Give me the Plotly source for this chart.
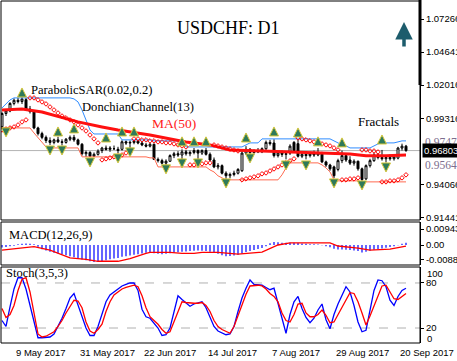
import plotly.graph_objects as go
import pandas as pd

# ---------------- data ----------------
dates = [d.strftime("%Y-%m-%d") for d in pd.bdate_range("2017-05-04", "2017-09-22")]

opens = [0.9870,0.9975,0.9995,1.0055,1.0080,1.0070,1.0085,1.0010,0.9990,0.9860,
         0.9815,0.9785,0.9760,0.9745,0.9765,0.9750,0.9745,0.9770,0.9785,0.9765,
         0.9730,0.9655,0.9665,0.9635,0.9650,0.9680,0.9700,0.9690,0.9695,0.9680,
         0.9690,0.9750,0.9740,0.9745,0.9755,0.9740,0.9725,0.9715,0.9730,0.9610,
         0.9600,0.9580,0.9595,0.9640,0.9655,0.9645,0.9670,0.9655,0.9665,0.9680,
         0.9660,0.9680,0.9650,0.9605,0.9550,0.9560,0.9500,0.9480,0.9490,0.9500,
         0.9520,0.9660,0.9690,0.9665,0.9680,0.9670,0.9695,0.9745,0.9740,0.9640,
         0.9660,0.9650,0.9660,0.9745,0.9735,0.9635,0.9650,0.9640,0.9655,0.9645,
         0.9660,0.9590,0.9565,0.9550,0.9530,0.9600,0.9640,0.9605,0.9580,0.9595,
         0.9535,0.9455,0.9560,0.9600,0.9645,0.9625,0.9615,0.9625,0.9615,0.9620,
         0.9700,0.9715]
highs = [0.9985,1.0010,1.0065,1.0095,1.0100,1.0105,1.0098,1.0035,1.0000,0.9870,
         0.9830,0.9800,0.9785,0.9775,0.9790,0.9770,0.9780,0.9800,0.9805,0.9775,
         0.9740,0.9680,0.9675,0.9665,0.9690,0.9710,0.9720,0.9715,0.9720,0.9710,
         0.9762,0.9760,0.9760,0.9762,0.9765,0.9755,0.9740,0.9740,0.9735,0.9625,
         0.9615,0.9610,0.9650,0.9670,0.9675,0.9690,0.9685,0.9680,0.9700,0.9690,
         0.9690,0.9700,0.9665,0.9625,0.9580,0.9570,0.9515,0.9505,0.9520,0.9540,
         0.9675,0.9715,0.9700,0.9690,0.9700,0.9705,0.9760,0.9765,0.9770,0.9675,
         0.9680,0.9670,0.9730,0.9755,0.9765,0.9665,0.9660,0.9670,0.9680,0.9700,
         0.9670,0.9600,0.9575,0.9560,0.9615,0.9680,0.9660,0.9635,0.9610,0.9600,
         0.9545,0.9570,0.9615,0.9660,0.9660,0.9685,0.9640,0.9650,0.9645,0.9710,
         0.9735,0.9725]
lows = [0.9850,0.9955,0.9985,1.0040,1.0055,1.0050,1.0000,0.9975,0.9850,0.9800,
        0.9770,0.9740,0.9725,0.9730,0.9740,0.9720,0.9735,0.9755,0.9750,0.9720,
        0.9640,0.9630,0.9630,0.9630,0.9640,0.9660,0.9680,0.9670,0.9685,0.9660,
        0.9680,0.9725,0.9690,0.9730,0.9730,0.9715,0.9705,0.9705,0.9630,0.9585,
        0.9570,0.9555,0.9590,0.9620,0.9630,0.9600,0.9640,0.9635,0.9650,0.9605,
        0.9645,0.9640,0.9595,0.9540,0.9530,0.9490,0.9455,0.9460,0.9475,0.9490,
        0.9510,0.9645,0.9645,0.9655,0.9660,0.9660,0.9685,0.9720,0.9625,0.9625,
        0.9630,0.9610,0.9645,0.9670,0.9625,0.9620,0.9610,0.9625,0.9630,0.9635,
        0.9580,0.9550,0.9520,0.9460,0.9515,0.9580,0.9590,0.9565,0.9560,0.9520,
        0.9430,0.9445,0.9545,0.9590,0.9610,0.9600,0.9585,0.9600,0.9600,0.9610,
        0.9680,0.9670]
closes = [0.9975,0.9995,1.0055,1.0080,1.0070,1.0090,1.0010,0.9990,0.9860,0.9815,
          0.9785,0.9760,0.9745,0.9765,0.9750,0.9745,0.9770,0.9785,0.9765,0.9730,
          0.9655,0.9665,0.9635,0.9650,0.9675,0.9700,0.9690,0.9700,0.9695,0.9690,
          0.9750,0.9740,0.9745,0.9755,0.9740,0.9725,0.9715,0.9730,0.9610,0.9600,
          0.9580,0.9595,0.9640,0.9655,0.9645,0.9670,0.9655,0.9665,0.9680,0.9660,
          0.9680,0.9650,0.9605,0.9550,0.9560,0.9500,0.9480,0.9490,0.9500,0.9530,
          0.9660,0.9690,0.9665,0.9680,0.9670,0.9695,0.9745,0.9735,0.9640,0.9660,
          0.9650,0.9655,0.9715,0.9680,0.9635,0.9650,0.9640,0.9655,0.9645,0.9660,
          0.9590,0.9565,0.9535,0.9480,0.9600,0.9640,0.9605,0.9580,0.9595,0.9535,
          0.9450,0.9560,0.9600,0.9645,0.9625,0.9615,0.9625,0.9615,0.9630,0.9700,
          0.9715,0.9680]

ma_idx = [0, 5, 10, 15, 19, 25, 29, 37, 46, 52, 57, 65, 72, 80, 87, 91, 96, 101]
ma_val = [1.0003,1.0011,0.9987,0.9940,0.9908,0.9868,0.9844,0.9804,0.9749,0.9725,
          0.9685,0.9677,0.9669,0.9661,0.9653,0.9638,0.9638,0.9645]

sar = [0.9844,0.9852,0.9860,0.9868,0.9884,0.9908,0.9924,
       1.0099,1.0099,1.0083,1.0067,1.0051,1.0027,1.0003,0.9979,0.9955,0.9940,0.9924,
       0.9908,0.9884,0.9860,0.9836,0.9804,0.9773,0.9741,
       0.9606,0.9614,0.9622,0.9630,0.9638,0.9645,0.9661,0.9669,
       0.9773,0.9773,0.9765,0.9765,0.9757,0.9757,0.9749,0.9749,0.9741,0.9741,0.9733,
       0.9725,0.9717,0.9709,
       0.9566,0.9566,0.9574,0.9574,0.9582,0.9582,
       0.9725,0.9717,0.9709,0.9701,0.9693,0.9685,0.9677,
       0.9447,0.9455,0.9463,0.9471,0.9479,0.9495,0.9502,0.9518,0.9534,0.9550,0.9566,
       0.9582,0.9598,0.9614,
       0.9781,0.9773,0.9765,0.9757,0.9749,0.9741,0.9733,0.9725,0.9717,0.9701,0.9685,
       0.9447,0.9447,0.9455,0.9455,0.9463,
       0.9685,0.9685,0.9677,0.9677,0.9669,
       0.9431,0.9431,0.9439,0.9439,0.9447,0.9463,0.9487]

don_up = [1.0019,1.0051,1.0083] + [1.0099]*15 + [1.0091,1.0067,1.0003,0.9924,0.9844] \
         + [0.9812]*7 + [0.9765]*8 + [0.9757]*8 + [0.9709]*14 + [0.9709,0.9725] \
         + [0.9741]*3 + [0.9773]*18 + [0.9757,0.9741,0.9725,0.9717] + [0.9701]*6 \
         + [0.9717,0.9733] + [0.9741]*4 + [0.9749] + [0.9757]*2
don_lo = [0.9860]*8 + [0.9820,0.9781,0.9741,0.9709] + [0.9701]*8 + [0.9630]*17 \
         + [0.9622]*2 + [0.9550]*13 + [0.9526,0.9510,0.9479,0.9463] + [0.9447]*14 \
         + [0.9487,0.9542] + [0.9582]*8 + [0.9566,0.9542,0.9510,0.9447] + [0.9439]*6 \
         + [0.9431]*12

frac_up_idx = [5, 14, 18, 26, 30, 33, 45, 48, 51, 61, 68, 74, 79, 85, 95]
frac_up_val = [1.0178,0.9868,0.9892,0.9820,0.9868,0.9868,0.9789,0.9789,0.9789,0.9820,
               0.9868,0.9860,0.9789,0.9781,0.9804]
frac_dn_idx = [1, 12, 15, 22, 29, 32, 41, 45, 49, 56, 62, 71, 76, 83, 90, 96]
frac_dn_val = [0.9789,0.9645,0.9645,0.9550,0.9582,0.9630,0.9495,0.9542,0.9542,0.9383,
               0.9582,0.9526,0.9526,0.9383,0.9367,0.9510]

macd = [-0.0015,-0.0012,-0.0008,-0.0004,0.0004,0.0008,0.0009,0.0008,0.0004,-0.0010,
        -0.0025,-0.0033,-0.0040,-0.0045,-0.0050,-0.0055,-0.0060,-0.0066,-0.0072,-0.0078,
        -0.0085,-0.0090,-0.0096,-0.0100,-0.0098,-0.0094,-0.0090,-0.0084,-0.0080,-0.0076,
        -0.0070,-0.0066,-0.0062,-0.0058,-0.0054,-0.0050,-0.0046,-0.0042,-0.0048,-0.0052,
        -0.0054,-0.0052,-0.0048,-0.0045,-0.0043,-0.0040,-0.0038,-0.0036,-0.0034,-0.0033,
        -0.0034,-0.0036,-0.0040,-0.0046,-0.0052,-0.0060,-0.0066,-0.0065,-0.0062,-0.0058,
        -0.0050,-0.0042,-0.0036,-0.0030,-0.0024,-0.0018,-0.0008,0.0010,0.0018,0.0016,
        0.0014,0.0013,0.0014,0.0014,0.0012,0.0009,0.0007,0.0005,0.0004,0.0003,
        -0.0002,-0.0008,-0.0014,-0.0022,-0.0026,-0.0026,-0.0028,-0.0030,-0.0032,-0.0036,
        -0.0044,-0.0040,-0.0034,-0.0028,-0.0024,-0.0020,-0.0016,-0.0012,-0.0008,-0.0002,
        0.0008,0.0014]
sig_idx = [0, 5, 8, 12, 17, 21, 24, 29, 32, 36, 37, 42, 45, 48, 50, 54, 57, 59, 65,
           69, 72, 82, 84, 89, 92, 97, 101]
sig_val = [-0.0030,-0.0018,-0.0010,-0.0030,-0.0076,-0.0085,-0.0096,-0.0096,-0.0080,
           -0.0050,-0.0044,-0.0044,-0.0050,-0.0050,-0.0044,-0.0044,-0.0048,-0.0054,
           -0.0042,0.0000,0.0012,0.0012,-0.0006,-0.0018,-0.0030,-0.0024,-0.0006]

stoch_k = [30,22,48,72,87,87,72,50,26,7,7,7,8,12,22,33,46,60,66,51,
           36,20,10,10,22,40,55,64,68,72,76,78,80,80,70,45,35,33,26,20,
           10,11,20,40,63,58,53,49,52,54,55,47,35,22,16,13,11,12,22,42,
           60,73,84,78,77,77,74,71,73,53,32,13,38,55,62,46,34,27,33,44,
           52,31,19,38,52,64,75,68,50,28,15,17,42,70,84,83,75,57,50,62,
           70,73]
stoch_d = [46,34,38,50,70,85,87,68,40,12,8,9,12,15,22,30,40,48,57,56,
           47,28,16,13,18,25,42,55,64,68,72,74,76,77,75,63,47,35,30,25,
           18,13,15,28,42,55,54,53,53,53,54,50,42,30,22,18,15,13,22,37,
           52,65,76,77,77,76,72,66,62,55,40,30,28,38,52,53,40,35,35,38,
           44,37,27,28,38,48,58,67,66,55,40,24,36,50,62,76,77,68,59,58,
           62,66]

date_ticks = ["2017-05-09", "2017-05-31", "2017-06-22", "2017-07-14",
              "2017-08-07", "2017-08-29", "2017-09-20"]
date_text = ["9 May 2017", "31 May 2017", "22 Jun 2017", "14 Jul 2017",
             "7 Aug 2017", "29 Aug 2017", "20 Sep 2017"]
price_ticks = [1.07266, 1.04641, 1.02016, 0.99316, 0.94066, 0.91441]
last_price = 0.96803
levels = [0.9747, 0.9564]

# ---------------- layout helpers ----------------
W, H = 457, 361
ML, MR, MT, MB = 1, 37, 1, 18
PW, PH = W - ML - MR, H - MT - MB
def px(x):
    return (x - ML) / PW
def py(y):
    return (H - MB - y) / PH

main_dom = [py(220), 1.0]
macd_dom = [py(265), py(222)]
st_dom = [0.0, py(267)]

SERIF = "Liberation Serif"
SANS = "Liberation Sans"

fig = go.Figure()

fig.add_trace(go.Candlestick(
    x=dates, open=opens, high=highs, low=lows, close=closes,
    increasing=dict(line=dict(color="black", width=1), fillcolor="white"),
    decreasing=dict(line=dict(color="black", width=1), fillcolor="black"),
    whiskerwidth=0, xaxis="x", yaxis="y", showlegend=False, hoverinfo="skip"))

fig.add_trace(go.Scatter(x=dates, y=don_up, mode="lines", line=dict(color="#2f8cff", width=1),
                         yaxis="y", showlegend=False, hoverinfo="skip"))
fig.add_trace(go.Scatter(x=dates, y=don_lo, mode="lines", line=dict(color="#ff6a50", width=1),
                         yaxis="y", showlegend=False, hoverinfo="skip"))
fig.add_trace(go.Scatter(x=[dates[i] for i in ma_idx], y=ma_val, mode="lines",
                         line=dict(color="#ff1010", width=3), yaxis="y", showlegend=False,
                         hoverinfo="skip"))
fig.add_trace(go.Scatter(x=dates, y=sar, mode="markers",
                         marker=dict(symbol="diamond-open", size=3.5, color="#ff0000",
                                     line=dict(width=1, color="#ff0000")),
                         yaxis="y", showlegend=False, hoverinfo="skip"))
fig.add_trace(go.Scatter(x=[dates[i] for i in frac_up_idx], y=frac_up_val, mode="markers",
                         marker=dict(symbol="arrow-up", size=9, color="#2e7a5a",
                                     line=dict(width=1, color="#d8c83a")),
                         yaxis="y", showlegend=False, hoverinfo="skip"))
fig.add_trace(go.Scatter(x=[dates[i] for i in frac_dn_idx], y=frac_dn_val, mode="markers",
                         marker=dict(symbol="arrow-down", size=9, color="#2e7a5a",
                                     line=dict(width=1, color="#d8c83a")),
                         yaxis="y", showlegend=False, hoverinfo="skip"))

fig.add_trace(go.Bar(x=dates, y=macd, width=0.3, marker=dict(color="#0000ff", line=dict(width=0)),
                     yaxis="y2", showlegend=False, hoverinfo="skip"))
fig.add_trace(go.Scatter(x=[dates[i] for i in sig_idx], y=sig_val, mode="lines",
                         line=dict(color="#ff0000", width=1.3), yaxis="y2", showlegend=False,
                         hoverinfo="skip"))

fig.add_trace(go.Scatter(x=dates, y=stoch_k, mode="lines", line=dict(color="#0000ff", width=1.3),
                         yaxis="y3", showlegend=False, hoverinfo="skip"))
fig.add_trace(go.Scatter(x=dates, y=stoch_d, mode="lines", line=dict(color="#ff0000", width=1.3),
                         yaxis="y3", showlegend=False, hoverinfo="skip"))

p_per_px = (1.07266 - 1.04641) / 33.0
ytop = 1.07266 + (19 - 1) * p_per_px
ybot = 1.07266 - (220 - 19) * p_per_px
m_per_px = 0.00059

tickfont = dict(family=SANS, size=9.5, color="black")
fig.update_layout(
    template="none",
    width=W, height=H, margin=dict(l=ML, r=MR, t=MT, b=MB, autoexpand=False),
    paper_bgcolor="white", plot_bgcolor="white",
    xaxis=dict(type="category", range=[-0.25, 104.5], showgrid=False, showticklabels=False,
               zeroline=False, rangeslider=dict(visible=False), anchor="y3", ticks="",
               automargin=False, showline=False),
    yaxis=dict(domain=main_dom, range=[ybot, ytop], side="right", showgrid=False, zeroline=False,
               tickvals=price_ticks, ticktext=["%.5f" % v for v in price_ticks],
               ticks="outside", ticklen=3, tickcolor="black", tickfont=tickfont,
               showline=True, linecolor="black", linewidth=1, anchor="x", automargin=False),
    yaxis2=dict(domain=macd_dom, range=[-(265 - 245) * m_per_px, (245 - 222) * m_per_px],
                side="right", showgrid=False, zeroline=False,
                tickvals=[0.00943, 0.0, -0.00882], ticktext=["0.00943", "0.00", "-0.00882"],
                ticks="outside", ticklen=3, tickcolor="black", tickfont=tickfont,
                showline=True, linecolor="black", linewidth=1, anchor="x", automargin=False),
    yaxis3=dict(domain=st_dom, range=[0, 101.3], side="right", showgrid=False, zeroline=False,
                tickvals=[80, 20], ticktext=["80", "20"],
                ticks="outside", ticklen=3, tickcolor="black", tickfont=tickfont,
                showline=True, linecolor="black", linewidth=1, anchor="x", automargin=False),
    showlegend=False,
    hovermode=False,
)

shapes = []
for dom in (main_dom, macd_dom, st_dom):
    shapes.append(dict(type="rect", xref="paper", yref="paper", x0=0, x1=1, y0=dom[0], y1=dom[1],
                       line=dict(color="black", width=1)))
shapes.append(dict(type="line", xref="paper", yref="y", x0=0, x1=1, y0=0.9680, y1=0.9680,
                   line=dict(color="#b4b4b4", width=1), layer="below"))
for lv in (80, 20):
    shapes.append(dict(type="line", xref="paper", yref="y3", x0=0, x1=1, y0=lv, y1=lv,
                       line=dict(color="#b0b0b0", width=1, dash="dash"), layer="below"))
shapes.append(dict(type="line", xref="paper", yref="paper", x0=px(420), x1=px(420),
                   y0=py(0), y1=py(85), line=dict(color="black", width=3)))
fig.update_layout(shapes=shapes)


def label(text, x, y, size, color="black", family=SERIF, xanchor="left", yref="paper"):
    return dict(text=text, x=x, y=y, xref="paper", yref=yref, xanchor=xanchor, yanchor="middle",
                showarrow=False, font=dict(family=family, size=size, color=color))


ann = []
ann.append(label("USDCHF: D1", px(228), py(28), 18, xanchor="center"))
ann.append(label("ParabolicSAR(0.02,0.2)", px(29), py(90), 12.6))
ann.append(label("DonchianChannel(13)", px(80), py(107), 12.6))
ann.append(label("MA(50)", px(150), py(123), 13.5, color="#ff2020"))
ann.append(label("Fractals", px(356), py(122), 13))
ann.append(label("MACD(12,26,9)", px(7), py(235), 12.5))
ann.append(label("Stoch(3,5,3)", px(4), py(273), 12.5))
ann.append(label("100", px(425), py(273), 9.5, family=SANS))
ann.append(label("0", px(425), py(338), 9.5, family=SANS))
for lv in levels:
    ann.append(label("%.4f" % lv, px(423), lv, 11.5, color="#7d6e8e", yref="y"))
a = label("%.5f" % last_price, px(422), last_price, 9.5, color="white", family=SANS, yref="y")
a.update(bgcolor="black", borderpad=1)
ann.append(a)
for d, t in zip(date_ticks, date_text):
    ann.append(dict(text=t, x=d, y=py(352), xref="x", yref="paper", xanchor="left",
                    yanchor="middle", showarrow=False, font=tickfont))
ann.append(dict(text="", x=px(404), y=py(22), xref="paper", yref="paper", showarrow=True,
                ax=0, ay=26, arrowhead=2, arrowsize=1, arrowwidth=3.5, arrowcolor="#1d5c6c",
                standoff=0))
fig.update_layout(annotations=ann)

fig.write_html("out.html", config={"displayModeBar": False, "staticPlot": True},
               post_script="document.body.style.margin='0px';document.body.style.overflow='hidden';")
